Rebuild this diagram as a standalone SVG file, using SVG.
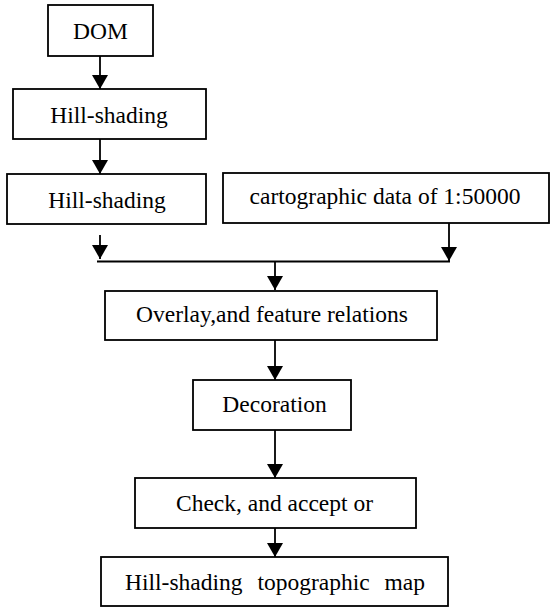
<svg xmlns="http://www.w3.org/2000/svg" width="550" height="607" viewBox="0 0 550 607">
<style>
.box{fill:#fff;stroke:#000;stroke-width:1.8}
.lbl{font-family:"Liberation Serif","Times New Roman",serif;font-size:23.5px;fill:#000;text-anchor:middle}
.ln{stroke:#000;stroke-width:1.8;fill:none}
</style>
<defs>
<marker id="ah" markerUnits="userSpaceOnUse" markerWidth="14" markerHeight="16" refX="14" refY="8" orient="auto" viewBox="0 0 14 16">
<path d="M0,0 L14,8 L0,16 Z" fill="#000"/>
</marker>
</defs>
<g id="connectors">
<line class="ln" x1="100" y1="56" x2="100" y2="89" marker-end="url(#ah)"/>
<line class="ln" x1="100" y1="139" x2="100" y2="174" marker-end="url(#ah)"/>
<line class="ln" x1="100" y1="235" x2="100" y2="259" marker-end="url(#ah)"/>
<line class="ln" x1="449" y1="223" x2="449" y2="261" marker-end="url(#ah)"/>
<line class="ln" x1="97" y1="261.5" x2="450" y2="261.5"/>
<line class="ln" x1="275" y1="261" x2="275" y2="290" marker-end="url(#ah)"/>
<line class="ln" x1="275" y1="340" x2="275" y2="380" marker-end="url(#ah)"/>
<line class="ln" x1="275" y1="430" x2="275" y2="478" marker-end="url(#ah)"/>
<line class="ln" x1="275" y1="528" x2="275" y2="557" marker-end="url(#ah)"/>
</g>
<g id="dom"><rect class="box" x="48" y="5" width="105" height="51"/><text class="lbl" x="100.5" y="39">DOM</text></g>
<g id="hs1"><rect class="box" x="13" y="89" width="193" height="50"/><text class="lbl" x="109" y="123">Hill-shading</text></g>
<g id="hs2"><rect class="box" x="7" y="174" width="199" height="50"/><text class="lbl" x="107" y="208">Hill-shading</text></g>
<g id="carto"><rect class="box" x="223" y="173" width="326" height="50"/><text class="lbl" x="385" y="204">cartographic data of 1:50000</text></g>
<g id="overlay"><rect class="box" x="105" y="291" width="332" height="49"/><text class="lbl" x="272" y="322">Overlay,and feature relations</text></g>
<g id="decoration"><rect class="box" x="193" y="380" width="158" height="50"/><text class="lbl" x="274.5" y="412">Decoration</text></g>
<g id="check"><rect class="box" x="135" y="478" width="281" height="50"/><text class="lbl" x="274.5" y="511">Check, and accept or</text></g>
<g id="final"><rect class="box" x="101" y="557" width="347" height="49"/><text class="lbl" x="275" y="590" word-spacing="9">Hill-shading topographic map</text></g>
</svg>
